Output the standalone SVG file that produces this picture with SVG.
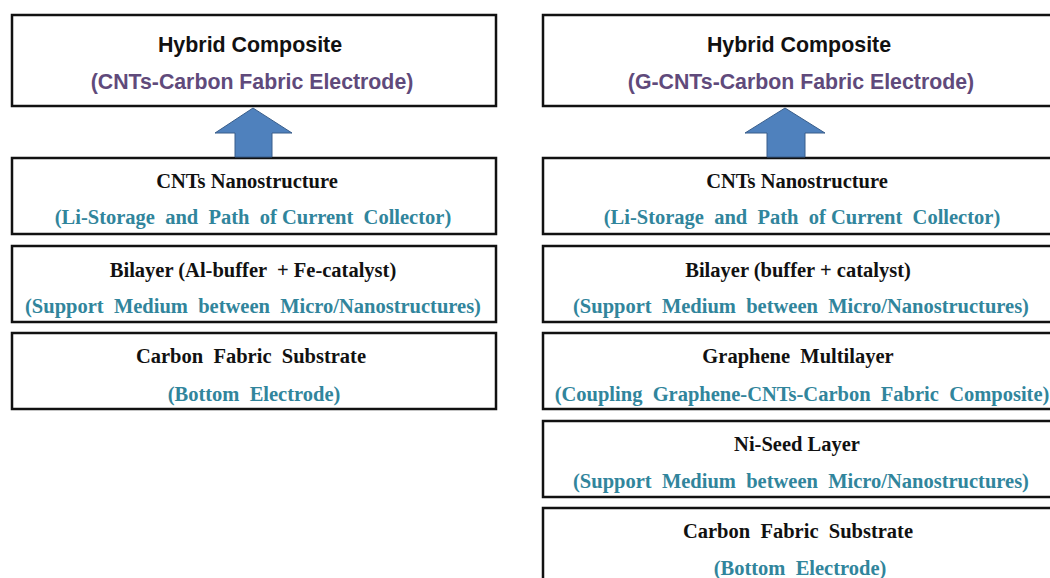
<svg xmlns="http://www.w3.org/2000/svg" width="1050" height="578" viewBox="0 0 1050 578">
<style>
.box{fill:#fff;stroke:#111;stroke-width:2.5}
.h{font-family:"Liberation Sans",Arial,sans-serif;font-weight:bold;font-size:21.4px;fill:#111;text-anchor:middle}
.hp{font-family:"Liberation Sans",Arial,sans-serif;font-weight:bold;font-size:21.3px;fill:#604a7b;text-anchor:middle}
.t{font-family:"Liberation Serif","Times New Roman",serif;font-weight:bold;font-size:20.5px;fill:#111;text-anchor:middle}
.s{font-family:"Liberation Serif","Times New Roman",serif;font-weight:bold;font-size:20.5px;fill:#31859c;text-anchor:middle}
.arr{fill:#4f81bd;stroke:#385d8a;stroke-width:1}
</style>
<rect width="1050" height="578" fill="#fff"/>
<g id="L-hybrid"><rect class="box" x="12" y="15" width="484" height="91"/><text class="h" x="250" y="52">Hybrid Composite</text><text class="hp" x="252" y="89">(CNTs-Carbon Fabric Electrode)</text></g>
<g id="L-cnts"><rect class="box" x="12" y="158" width="484" height="76"/><text class="t" x="247" y="188">CNTs Nanostructure</text><text class="s" x="253" y="224" xml:space="preserve">(Li-Storage  and  Path  of Current  Collector)</text></g>
<g id="L-bilayer"><rect class="box" x="12" y="246" width="484" height="76"/><text class="t" x="253" y="277" xml:space="preserve">Bilayer (Al-buffer  + Fe-catalyst)</text><text class="s" x="253" y="313" xml:space="preserve">(Support  Medium  between  Micro/Nanostructures)</text></g>
<g id="L-carbon"><rect class="box" x="12" y="333" width="484" height="76"/><text class="t" x="251" y="363" xml:space="preserve">Carbon  Fabric  Substrate</text><text class="s" x="254" y="401" xml:space="preserve">(Bottom  Electrode)</text></g>

<g id="R-hybrid"><rect class="box" x="543" y="15" width="520" height="91"/><text class="h" x="799" y="52">Hybrid Composite</text><text class="hp" x="801" y="89">(G-CNTs-Carbon Fabric Electrode)</text></g>
<g id="R-cnts"><rect class="box" x="543" y="158" width="520" height="76"/><text class="t" x="797" y="188">CNTs Nanostructure</text><text class="s" x="802" y="224" xml:space="preserve">(Li-Storage  and  Path  of Current  Collector)</text></g>
<g id="R-bilayer"><rect class="box" x="543" y="246" width="520" height="76"/><text class="t" x="798" y="277">Bilayer (buffer + catalyst)</text><text class="s" x="801" y="313" xml:space="preserve">(Support  Medium  between  Micro/Nanostructures)</text></g>
<g id="R-graphene"><rect class="box" x="543" y="333" width="520" height="76"/><text class="t" x="798" y="363" xml:space="preserve">Graphene  Multilayer</text><text class="s" x="802" y="401" xml:space="preserve">(Coupling  Graphene-CNTs-Carbon  Fabric  Composite)</text></g>
<g id="R-ni"><rect class="box" x="543" y="421" width="520" height="76"/><text class="t" x="797" y="451">Ni-Seed Layer</text><text class="s" x="801" y="488" xml:space="preserve">(Support  Medium  between  Micro/Nanostructures)</text></g>
<g id="R-carbon"><rect class="box" x="543" y="508" width="520" height="90"/><text class="t" x="798" y="538" xml:space="preserve">Carbon  Fabric  Substrate</text><text class="s" x="800" y="575" xml:space="preserve">(Bottom  Electrode)</text></g>

<g id="connectors">
<polygon class="arr" points="253,108 292,133 272,133 272,157 235,157 235,133 215,133"/>
<polygon class="arr" points="785,108 825,133 805,133 805,157 767,157 767,133 745,133"/>
</g>
</svg>
